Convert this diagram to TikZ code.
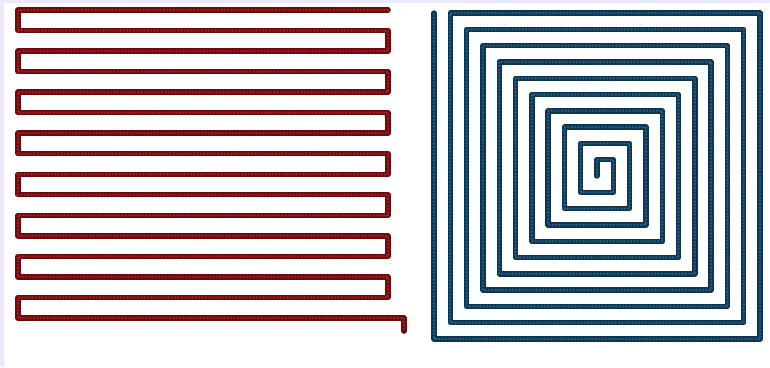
\documentclass[tikz,border=0pt]{standalone}
\definecolor{RedDot}  {RGB}{168,26,30}
\definecolor{RedEdge} {RGB}{105,10,14}
\definecolor{BlueDot} {RGB}{32,94,132}
\definecolor{BlueEdge}{RGB}{14,52,80}
\definecolor{FrameLav}{RGB}{234,234,252}
\usetikzlibrary{positioning}
\tikzset{
  beads/.style={line width=5.4pt,line join=round,line cap=round,
       postaction={draw=#1,line width=2.8pt,dash pattern=on 0pt off 3.4pt}},
  redcurve/.style={draw=RedEdge,beads=RedDot},
  bluecurve/.style={draw=BlueEdge,beads=BlueDot}
}

\begin{document}
\begin{tikzpicture}[x=1pt,y=-1pt]
  %% frame
  \fill[FrameLav](0,0) rectangle (770,367);
  \fill[white](4,3) rectangle (770,367);
  \useasboundingbox (0,0) rectangle (770,367);
  %% Serpentine
  \begin{scope}[shift={(18,10)},x=20.56pt,y=-20.53pt]
    \draw[redcurve](18,0)
      \foreach \j in {0,...,6}{
        -- (0,{2*\j}) -- (0,{2*\j+1}) -- (18,{2*\j+1}) -- (18,{2*\j+2})}
      -- (0,14) -- (0,15) -- (18.77,15) -- (18.77,15.64);
  \end{scope}
  %% Square spiral
  \begin{scope}[shift={(597,176)},x=16.3pt,y=-16.3pt]
    \draw[bluecurve](0,0)
      \foreach \k in {0,...,9}{
        -- (-\k,{-\k-1}) -- ({\k+1},{-\k-1})
        -- ({\k+1},{\k+1}) -- ({-\k-1},{\k+1})}
      -- (-10,-10);
  \end{scope}
\end{tikzpicture}
\end{document}
